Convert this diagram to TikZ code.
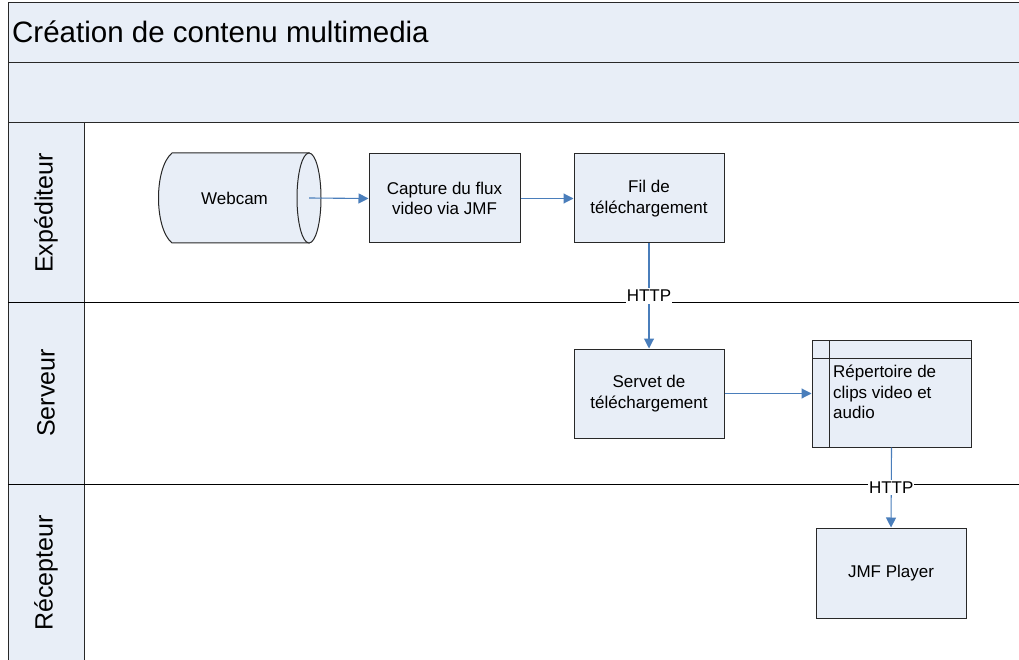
\documentclass[tikz,border=0pt]{standalone}
\usepackage{fontspec}
\setmainfont{Liberation Sans}
\usetikzlibrary{arrows.meta}
\definecolor{paneFill}{RGB}{232,238,247}
\definecolor{edgeGray}{RGB}{40,40,40}
\definecolor{flowBlue}{RGB}{74,126,187}
\tikzset{
  boxtext/.style={font=\fontsize{17}{20.4}\selectfont},
  procbox/.style={draw=edgeGray, line width=1pt, fill=paneFill, boxtext,
    align=center, inner sep=0pt},
  flow/.style={draw=flowBlue, line width=1.1pt,
    -{Triangle[length=10pt,width=10pt]}},
  proto/.style={fill=white, boxtext, inner xsep=1pt, inner ysep=2pt},
  laneline/.style={draw=black, line width=1pt},
  lanelabel/.style={font=\fontsize{25}{30}\selectfont, rotate=90}
}
\begin{document}
\begin{tikzpicture}[x=1pt, y=-1pt]
  \useasboundingbox (0,0) rectangle (1019,660);
  \fill[white] (0,0) rectangle (1019,660);

  % header bands
  \fill[paneFill] (8,3) rectangle (1019,123);
  \draw[edgeGray, line width=1pt] (1019,3) -- (8,3) -- (8,660);
  \draw[edgeGray, line width=1pt] (8,63) -- (1019,63);
  \draw[edgeGray, line width=1pt] (8,123) -- (1019,123);
  \node[anchor=base west, inner sep=0pt, font=\fontsize{29.5}{35}\selectfont]
    (title) at (12,43) {Création de contenu multimedia};

  % lane label column
  \fill[paneFill] (8,123) rectangle (84,660);
  \draw[edgeGray, line width=1pt] (84,123) -- (84,660);
  \draw[edgeGray, line width=1pt] (8,123) -- (8,660);

  % lane separators
  \draw[laneline] (8,302) -- (1019,302);
  \draw[laneline] (8,484) -- (1019,484);

  \node[lanelabel] (laneA) at (46,213) {Expéditeur};
  \node[lanelabel] (laneB) at (46,393) {Serveur};
  \node[lanelabel] (laneC) at (46,573) {Récepteur};

  % webcam (direct data shape)
  \filldraw[fill=paneFill, draw=edgeGray, line width=1pt]
    (172,153) -- (309,153) -- (309,243) -- (172,243)
    .. controls (154,228) and (154,168) .. (172,153) -- cycle;
  \filldraw[fill=paneFill, draw=edgeGray, line width=1pt]
    (309,198) ellipse [x radius=12, y radius=45];
  \node[boxtext, minimum width=149pt, minimum height=90pt, inner sep=0pt]
    (webcam) at (234.5,198) {Webcam};

  % process boxes
  \node[procbox, minimum width=151pt, minimum height=89pt]
    (capture) at (444.5,198.5) {Capture du flux\\video via JMF};
  \node[procbox, minimum width=150pt, minimum height=89pt]
    (fil) at (649,198.5) {Fil de\\téléchargement};
  \node[procbox, minimum width=150pt, minimum height=89pt]
    (servet) at (649,393.5) {Servet de\\téléchargement};
  \node[procbox, minimum width=159pt, minimum height=107pt]
    (repo) at (891.5,393.5) {};
  \draw[edgeGray, line width=1pt] (829,340) -- (829,447);
  \draw[edgeGray, line width=1pt] (812,358) -- (971,358);
  \node[boxtext, anchor=north west, inner sep=0pt, align=left]
    (repotext) at (833,365) {Répertoire de\\clips video et\\audio};
  \node[procbox, minimum width=150pt, minimum height=90pt]
    (player) at (891,573) {JMF Player};

  % connectors
  \draw[flow] (webcam.east) -- (capture.west);
  \draw[flow] (capture.east) -- (fil.west);
  \draw[flow] (fil.south) -- node[proto] {HTTP} (servet.north);
  \draw[flow] (servet.east) -- (repo.west);
  \draw[flow] (repo.south) -- node[proto] {HTTP} (player.north);
\end{tikzpicture}
\end{document}
